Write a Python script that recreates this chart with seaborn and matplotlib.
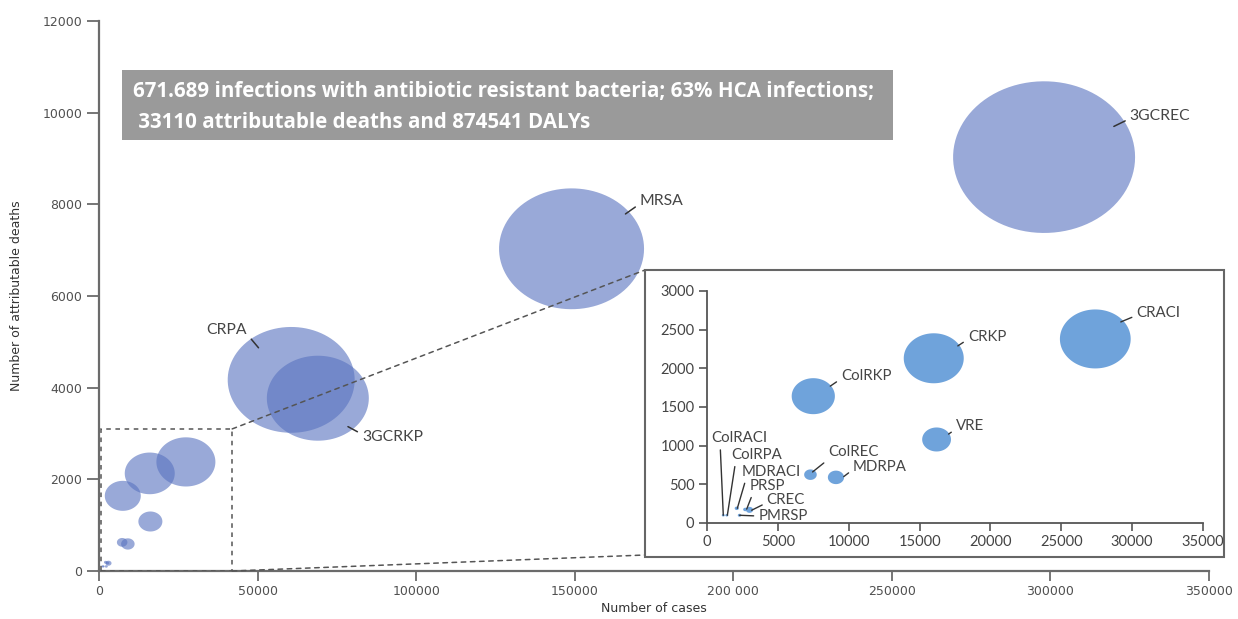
import numpy as np
import pandas as pd
import matplotlib
matplotlib.use("Agg")
import matplotlib.pyplot as plt
import seaborn as sns
from matplotlib.path import Path
from matplotlib.patches import Rectangle, ConnectionPatch

# ---------------- data ----------------
organisms = ["3GCREC", "MRSA", "CRPA", "3GCRKP", "CRACI", "CRKP", "ColRKP", "VRE",
             "MDRPA", "ColREC", "CREC", "PRSP", "MDRACI", "PMRSP", "ColRPA", "ColRACI"]
cases = [298000, 149000, 60600, 69000, 27400, 16000, 7500, 16200,
         9100, 7300, 3000, 2700, 2100, 2300, 1400, 1150]
deaths = [9030, 7030, 4170, 3770, 2380, 2130, 1640, 1080,
          590, 625, 170, 175, 190, 100, 100, 100]
dalys = [250000, 158700, 121700, 78500, 26270, 18870, 9780, 4350,
         1375, 832, 272, 92, 92, 68, 47, 47]

main_xticks = [0, 50000, 100000, 150000, 200000, 250000, 300000, 350000]
main_xticklabels = ["0", "50000", "100000", "150000", "200 000", "250000", "300000", "350000"]
main_yticks = [0, 2000, 4000, 6000, 8000, 10000, 12000]
inset_xticks = [0, 5000, 10000, 15000, 20000, 25000, 30000, 35000]
inset_yticks = [0, 500, 1000, 1500, 2000, 2500, 3000]

summary_line1 = "671.689 infections with antibiotic resistant bacteria; 63% HCA infections;"
summary_line2 = " 33110 attributable deaths and 874541 DALYs"

df = pd.DataFrame({"organism": organisms, "cases": cases, "deaths": deaths, "dalys": dalys})

# ---------------- style ----------------
sns.set_style("white")
plt.rcParams["font.family"] = ["DejaVu Sans"]

W, H = 1238, 619
fig = plt.figure(figsize=(W / 100, H / 100), dpi=100)

def fx(px):
    return px / W

def fy(py):
    return 1 - py / H

# elliptical marker (source image is horizontally stretched)
t = np.linspace(0, 2 * np.pi, 100)
ellipse = Path(np.column_stack([1.2 * np.cos(t), np.sin(t)]), closed=True)

main_color = "#5a74c0"
inset_color = "#6fa3db"
spine_col = "#6b6b6b"
txt_col = "#505050"

# ---------------- main axes ----------------
ax = fig.add_axes([fx(99), fy(571), fx(1209) - fx(99), fy(21) - fy(571)], zorder=0)
smax = (182 * 0.72) ** 2
sns.scatterplot(data=df, x="cases", y="deaths", size="dalys", sizes=(0, smax),
                size_norm=(0, max(dalys)), marker=ellipse, color=main_color,
                alpha=0.62, linewidth=0, edgecolor="none", legend=False, ax=ax)
ax.set_xlim(0, 350000)
ax.set_ylim(0, 12000)
ax.set_xticks(main_xticks)
ax.set_xticklabels(main_xticklabels)
ax.set_yticks(main_yticks)
ax.set_yticklabels([str(v) for v in main_yticks])
for s in ["top", "right"]:
    ax.spines[s].set_visible(False)
for s in ["left", "bottom"]:
    ax.spines[s].set_color(spine_col)
    ax.spines[s].set_linewidth(1.6)
ax.tick_params(axis="both", direction="out", width=1.3, color=spine_col,
               labelsize=9, labelcolor=txt_col, pad=3, left=True, bottom=True)
ax.tick_params(axis="x", length=7)
ax.tick_params(axis="y", length=9)
ax.set_xlabel("Number of cases", fontsize=9, color="#333333", labelpad=3)
ax.set_ylabel("Number of attributable deaths", fontsize=9, color="#333333", labelpad=14)
ax.set_facecolor("none")

# dashed zoom rectangle
ax.add_patch(Rectangle((600, 0), 41400, 3100, fill=False, ls=(0, (3, 3)),
                       ec="#555555", lw=1.1, zorder=3))

lab_kw = dict(fontsize=11.3, color="#454545", family=["Lato", "DejaVu Sans"])
main_labels = {
    "3GCREC": ((320000, 9700), (325000, 9930), "left", (0, 0.3)),
    "MRSA": ((166000, 7790), (170500, 8070), "left", (0, 0.3)),
    "CRPA": ((50300, 4870), (46700, 5258), "right", (1, 0.2)),
    "3GCRKP": ((78500, 3150), (82900, 2924), "left", (0, 0.7)),
}
for name, (xy, xyt, ha, rp) in main_labels.items():
    ax.annotate(name, xy=xy, xytext=xyt, ha=ha, va="center",
                arrowprops=dict(arrowstyle="-", color="#333333", lw=1.1,
                                shrinkA=1, shrinkB=0, relpos=rp), **lab_kw)

# ---------------- inset frame & connectors ----------------
frame = Rectangle((fx(645), fy(557)), fx(1224) - fx(645), fy(270) - fy(557),
                  transform=fig.transFigure, facecolor="white", edgecolor="#666666",
                  lw=1.5, zorder=1)
fig.add_artist(frame)
for xyA, xyB in [((42000, 3100), (fx(645), fy(270))), ((42000, 0), (fx(645), fy(555)))]:
    con = ConnectionPatch(xyA=xyA, coordsA=ax.transData, xyB=xyB, coordsB=fig.transFigure,
                          ls=(0, (3, 3)), color="#555555", lw=1.1, zorder=0.5)
    fig.add_artist(con)

# ---------------- inset axes ----------------
ins = fig.add_axes([fx(707), fy(523), fx(1203) - fx(707), fy(291) - fy(523)], zorder=2)
ins.set_facecolor("none")
dfi = df[(df["cases"] <= 35000) & (df["deaths"] <= 3000)]
sns.scatterplot(data=dfi, x="cases", y="deaths", size="dalys", sizes=(0, smax * 1.44),
                size_norm=(0, max(dalys)), marker=ellipse, color=inset_color,
                alpha=1.0, linewidth=0, edgecolor="none", legend=False, ax=ins)
ins.set_xlim(0, 35000)
ins.set_ylim(0, 3000)
ins.set_xticks(inset_xticks)
ins.set_xticklabels([str(v) for v in inset_xticks])
ins.set_yticks(inset_yticks)
ins.set_yticklabels([str(v) for v in inset_yticks])
for s in ["top", "right"]:
    ins.spines[s].set_visible(False)
for s in ["left", "bottom"]:
    ins.spines[s].set_color("#555555")
    ins.spines[s].set_linewidth(1.3)
ins.tick_params(axis="both", direction="out", length=6, width=1.2, color="#555555",
                labelsize=10.5, labelcolor="#444444", pad=3, left=True, bottom=True)
for lbl in ins.get_xticklabels() + ins.get_yticklabels():
    lbl.set_family(["Lato", "DejaVu Sans"])
ins.set_xlabel("")
ins.set_ylabel("")

inset_labels = {
    "CRACI": ((29200, 2600), (30300, 2720), "left", (0, 0.3)),
    "CRKP": ((17700, 2290), (18400, 2410), "left", (0, 0.3)),
    "ColRKP": ((8700, 1770), (9450, 1900), "left", (0, 0.3)),
    "VRE": ((17050, 1150), (17550, 1250), "left", (0, 0.3)),
    "ColREC": ((7450, 660), (8550, 920), "left", (0.05, 0.1)),
    "MDRPA": ((9650, 600), (10300, 728), "left", (0, 0.3)),
    "ColRACI": ((1150, 100), (330, 1096), "left", (0.15, 0.1)),
    "ColRPA": ((1435, 100), (1743, 880), "left", (0.08, 0.1)),
    "MDRACI": ((2140, 190), (2450, 664), "left", (0.08, 0.1)),
    "PRSP": ((2800, 180), (3035, 479), "left", (0.1, 0.1)),
    "CREC": ((3150, 165), (4213, 298), "left", (0, 0.3)),
    "PMRSP": ((2300, 100), (3620, 90), "left", (0, 0.5)),
}
ilab_kw = dict(fontsize=10.8, color="#454545", family=["Lato", "DejaVu Sans"])
for name, (xy, xyt, ha, rp) in inset_labels.items():
    ins.annotate(name, xy=xy, xytext=xyt, ha=ha, va="center",
                 arrowprops=dict(arrowstyle="-", color="#333333", lw=1.0,
                                 shrinkA=1, shrinkB=0, relpos=rp), **ilab_kw)

# ---------------- summary box ----------------
fig.add_artist(Rectangle((fx(122), fy(140)), fx(893) - fx(122), fy(70) - fy(140),
                         transform=fig.transFigure, facecolor="#9a9a9a",
                         edgecolor="none", zorder=3))
box_kw = dict(fontsize=14.8, color="white", fontweight="bold",
              family=["Open Sans", "DejaVu Sans"], va="center", ha="left", zorder=4)
fig.text(fx(133), fy(91), summary_line1, **box_kw)
fig.text(fx(133), fy(123), summary_line2, **box_kw)

fig.savefig("out.png", dpi=100, facecolor="white")
